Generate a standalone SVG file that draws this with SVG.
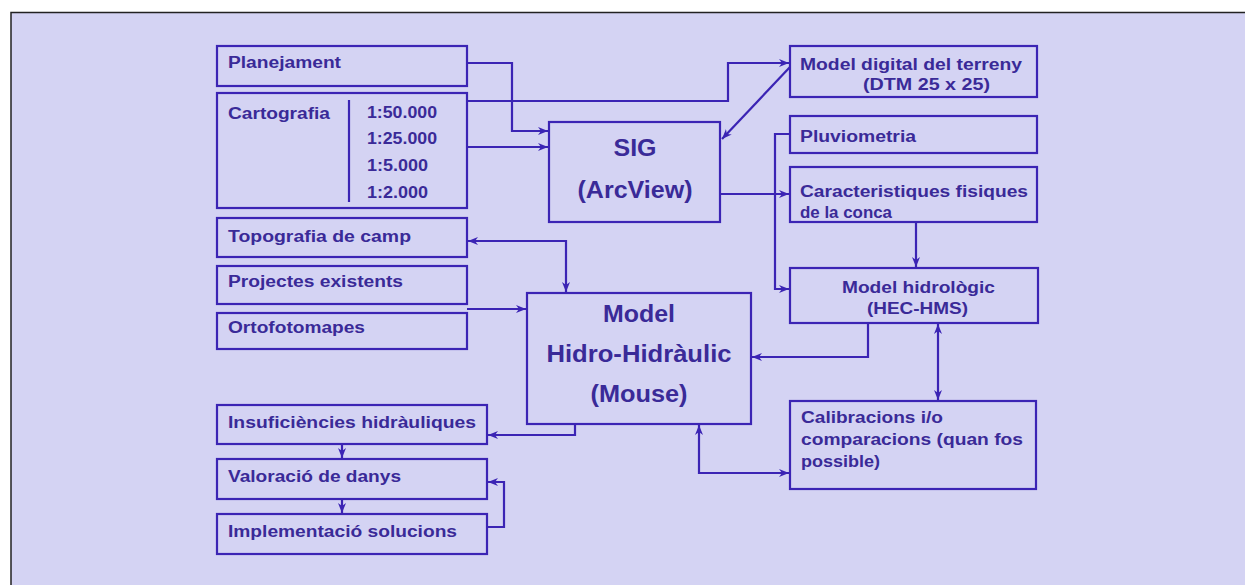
<svg xmlns="http://www.w3.org/2000/svg" width="1245" height="585" viewBox="0 0 1245 585">
<style>
.box{fill:none;stroke:#3b24b4;stroke-width:2.2}
.t{font-family:"Liberation Sans",Arial,sans-serif;font-weight:bold;font-size:16px;fill:#3a2a98}
.big{font-family:"Liberation Sans",Arial,sans-serif;font-weight:bold;font-size:23px;fill:#3a2a98;text-anchor:middle}
.c{fill:none;stroke:#3b24b4;stroke-width:2.2}
</style>
<defs>
<marker id="ah" markerUnits="userSpaceOnUse" markerWidth="10" markerHeight="10" refX="10" refY="5" orient="auto-start-reverse">
<path d="M0,1 L10,5 L0,9 L3,5 z" fill="#3b24b4"/>
</marker>
</defs>
<rect x="0" y="0" width="1245" height="585" fill="#ffffff"/>
<rect x="11" y="12.5" width="1240" height="580" fill="#d4d3f3" stroke="#222" stroke-width="1.5"/>

<g id="planejament"><rect class="box" x="217" y="46" width="250" height="40"/><text class="t" x="228" y="68" textLength="113" lengthAdjust="spacingAndGlyphs">Planejament</text></g>
<g id="cartografia"><rect class="box" x="217" y="93" width="250" height="115"/>
<line class="box" x1="349" y1="100" x2="349" y2="202"/>
<text class="t" x="228" y="119" textLength="102" lengthAdjust="spacingAndGlyphs">Cartografia</text>
<text class="t" x="367" y="118" textLength="70" lengthAdjust="spacingAndGlyphs">1:50.000</text>
<text class="t" x="367" y="144" textLength="70" lengthAdjust="spacingAndGlyphs">1:25.000</text>
<text class="t" x="367" y="171" textLength="61" lengthAdjust="spacingAndGlyphs">1:5.000</text>
<text class="t" x="367" y="198" textLength="61" lengthAdjust="spacingAndGlyphs">1:2.000</text></g>
<g id="topografia"><rect class="box" x="217" y="218" width="250" height="39"/><text class="t" x="228" y="242" textLength="183" lengthAdjust="spacingAndGlyphs">Topografia de camp</text></g>
<g id="projectes"><rect class="box" x="217" y="266" width="250" height="38"/><text class="t" x="228" y="287" textLength="175" lengthAdjust="spacingAndGlyphs">Projectes existents</text></g>
<g id="ortofotomapes"><rect class="box" x="217" y="313" width="250" height="36"/><text class="t" x="228" y="333" textLength="137" lengthAdjust="spacingAndGlyphs">Ortofotomapes</text></g>
<g id="insuficiencies"><rect class="box" x="217" y="405" width="270" height="39"/><text class="t" x="228" y="428" textLength="248" lengthAdjust="spacingAndGlyphs">Insuficiències hidràuliques</text></g>
<g id="valoracio"><rect class="box" x="217" y="459" width="270" height="40"/><text class="t" x="228" y="482" textLength="173" lengthAdjust="spacingAndGlyphs">Valoració de danys</text></g>
<g id="implementacio"><rect class="box" x="217" y="514" width="270" height="40"/><text class="t" x="228" y="537" textLength="229" lengthAdjust="spacingAndGlyphs">Implementació solucions</text></g>

<g id="sig"><rect class="box" x="549" y="122" width="171" height="100"/>
<text class="big" x="635" y="156" textLength="43" lengthAdjust="spacingAndGlyphs">SIG</text>
<text class="big" x="635" y="198" textLength="115" lengthAdjust="spacingAndGlyphs">(ArcView)</text></g>
<g id="model-hidro"><rect class="box" x="527" y="293" width="224" height="131"/>
<text class="big" x="639" y="322" textLength="72" lengthAdjust="spacingAndGlyphs">Model</text>
<text class="big" x="639" y="362" textLength="185" lengthAdjust="spacingAndGlyphs">Hidro-Hidràulic</text>
<text class="big" x="639" y="402" textLength="97" lengthAdjust="spacingAndGlyphs">(Mouse)</text></g>

<g id="model-digital"><rect class="box" x="790" y="46" width="247" height="51"/>
<text class="t" x="800" y="70" textLength="222" lengthAdjust="spacingAndGlyphs">Model digital del terreny</text>
<text class="t" x="863" y="90" textLength="127" lengthAdjust="spacingAndGlyphs">(DTM 25 x 25)</text></g>
<g id="pluviometria"><rect class="box" x="790" y="116" width="247" height="37"/><text class="t" x="800" y="142" textLength="116" lengthAdjust="spacingAndGlyphs">Pluviometria</text></g>
<g id="caracteristiques"><rect class="box" x="790" y="167" width="247" height="55"/>
<text class="t" x="800" y="197" textLength="228" lengthAdjust="spacingAndGlyphs">Caracteristiques fisiques</text>
<text class="t" x="800" y="218" textLength="92" lengthAdjust="spacingAndGlyphs">de la conca</text></g>
<g id="model-hidrologic"><rect class="box" x="790" y="268" width="248" height="55"/>
<text class="t" x="842" y="293" textLength="153" lengthAdjust="spacingAndGlyphs">Model hidrològic</text>
<text class="t" x="867" y="314" textLength="101" lengthAdjust="spacingAndGlyphs">(HEC-HMS)</text></g>
<g id="calibracions"><rect class="box" x="790" y="401" width="246" height="88"/>
<text class="t" x="801" y="423" textLength="142" lengthAdjust="spacingAndGlyphs">Calibracions i/o</text>
<text class="t" x="801" y="445" textLength="222" lengthAdjust="spacingAndGlyphs">comparacions (quan fos</text>
<text class="t" x="801" y="467" textLength="79" lengthAdjust="spacingAndGlyphs">possible)</text></g>

<g id="connectors">
<path class="c" d="M467,63 H512 V131 H548" marker-end="url(#ah)"/>
<path class="c" d="M467,101 H728 V63 H789" marker-end="url(#ah)"/>
<path class="c" d="M467,147 H548" marker-end="url(#ah)"/>
<path class="c" d="M790,67 L722,139" marker-end="url(#ah)"/>
<path class="c" d="M720,194 H789" marker-end="url(#ah)"/>
<path class="c" d="M790,134 H775 V289 H789" marker-end="url(#ah)"/>
<path class="c" d="M916,222 V267" marker-end="url(#ah)"/>
<path class="c" d="M868,323 V357 H752" marker-end="url(#ah)"/>
<path class="c" d="M938,324 V400" marker-start="url(#ah)" marker-end="url(#ah)"/>
<path class="c" d="M699,425 V473 H789" marker-start="url(#ah)" marker-end="url(#ah)"/>
<path class="c" d="M468,241 H566 V292" marker-start="url(#ah)" marker-end="url(#ah)"/>
<path class="c" d="M467,309 H526" marker-end="url(#ah)"/>
<path class="c" d="M575,424 V435 H488" marker-end="url(#ah)"/>
<path class="c" d="M342,444 V458" marker-end="url(#ah)"/>
<path class="c" d="M342,499 V513" marker-end="url(#ah)"/>
<path class="c" d="M487,527 H504 V482 H488" marker-end="url(#ah)"/>
</g>
</svg>
